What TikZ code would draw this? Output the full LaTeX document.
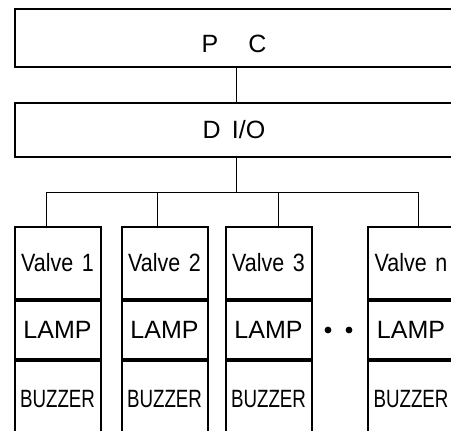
\documentclass[tikz,border=0pt]{standalone}
\usepackage{fontspec}
\setmainfont{Liberation Sans}
\usetikzlibrary{positioning}

\begin{document}
\begin{tikzpicture}[x=0.5pt,y=-0.5pt,
   box/.style={draw,line width=1pt,minimum width=219pt,inner sep=0pt,
               font=\fontsize{12.5}{14}\selectfont},
   cell/.style={draw,line width=1pt,minimum width=43pt,inner sep=0pt,
                font=\fontsize{12.5}{14}\selectfont},
   valvecell/.style={cell,minimum height=36pt},
   lampcell/.style={cell,minimum height=29pt,below=0pt of #1},
   buzzcell/.style={cell,minimum height=38pt,below=0pt of #1},
   wire/.style={line width=0.5pt},
   dot/.style={circle,fill,inner sep=0pt,minimum size=3.4pt}]
  \useasboundingbox (0,0) rectangle (451,430);
  \clip (0,0) rectangle (451,430);

  % upper blocks
  \node[box,minimum height=29pt,text height=14pt,text depth=0pt] (pc) at (234,38) {P\hspace{1.2em}C};
  \node[box,minimum height=27pt] (dio) at (234,130) {D\hspace{0.45em}I/O};

  % column 1
  \node[valvecell] (v1) at (57.5,263) {\scalebox{0.86}[1]{Valve\hspace{0.4em}1}};
  \node[lampcell=v1] (l1) {LAMP};
  \node[buzzcell=l1] (z1) {\scalebox{0.75}[1]{BUZZER}};

  % column 2
  \node[valvecell] (v2) at (164.5,263) {\scalebox{0.86}[1]{Valve\hspace{0.4em}2}};
  \node[lampcell=v2] (l2) {LAMP};
  \node[buzzcell=l2] (z2) {\scalebox{0.75}[1]{BUZZER}};

  % column 3
  \node[valvecell] (v3) at (268.5,263) {\scalebox{0.86}[1]{Valve\hspace{0.4em}3}};
  \node[lampcell=v3] (l3) {LAMP};
  \node[buzzcell=l3] (z3) {\scalebox{0.75}[1]{BUZZER}};

  % column n
  \node[valvecell] (vn) at (411,263) {\scalebox{0.86}[1]{Valve\hspace{0.4em}n}};
  \node[lampcell=vn] (ln) {LAMP};
  \node[buzzcell=ln] (zn) {\scalebox{0.75}[1]{BUZZER}};

  % dots
  \node[dot] (dot1) at (328,330) {};
  \node[dot] (dot2) at (349,330) {};

  % bus
  \coordinate (j) at (236,192);
  \coordinate (b1) at (46,192);
  \coordinate (b2) at (157,192);
  \coordinate (b3) at (278,192);
  \coordinate (bn) at (418,192);
  \draw[wire] (pc.south -| j) -- (dio.north -| j);
  \draw[wire] (dio.south -| j) -- (j);
  \draw[wire] (b1) -- (bn);
  \draw[wire] (b1) -- (b1 |- v1.north);
  \draw[wire] (b2) -- (b2 |- v2.north);
  \draw[wire] (b3) -- (b3 |- v3.north);
  \draw[wire] (bn) -- (bn |- vn.north);
\end{tikzpicture}
\end{document}
